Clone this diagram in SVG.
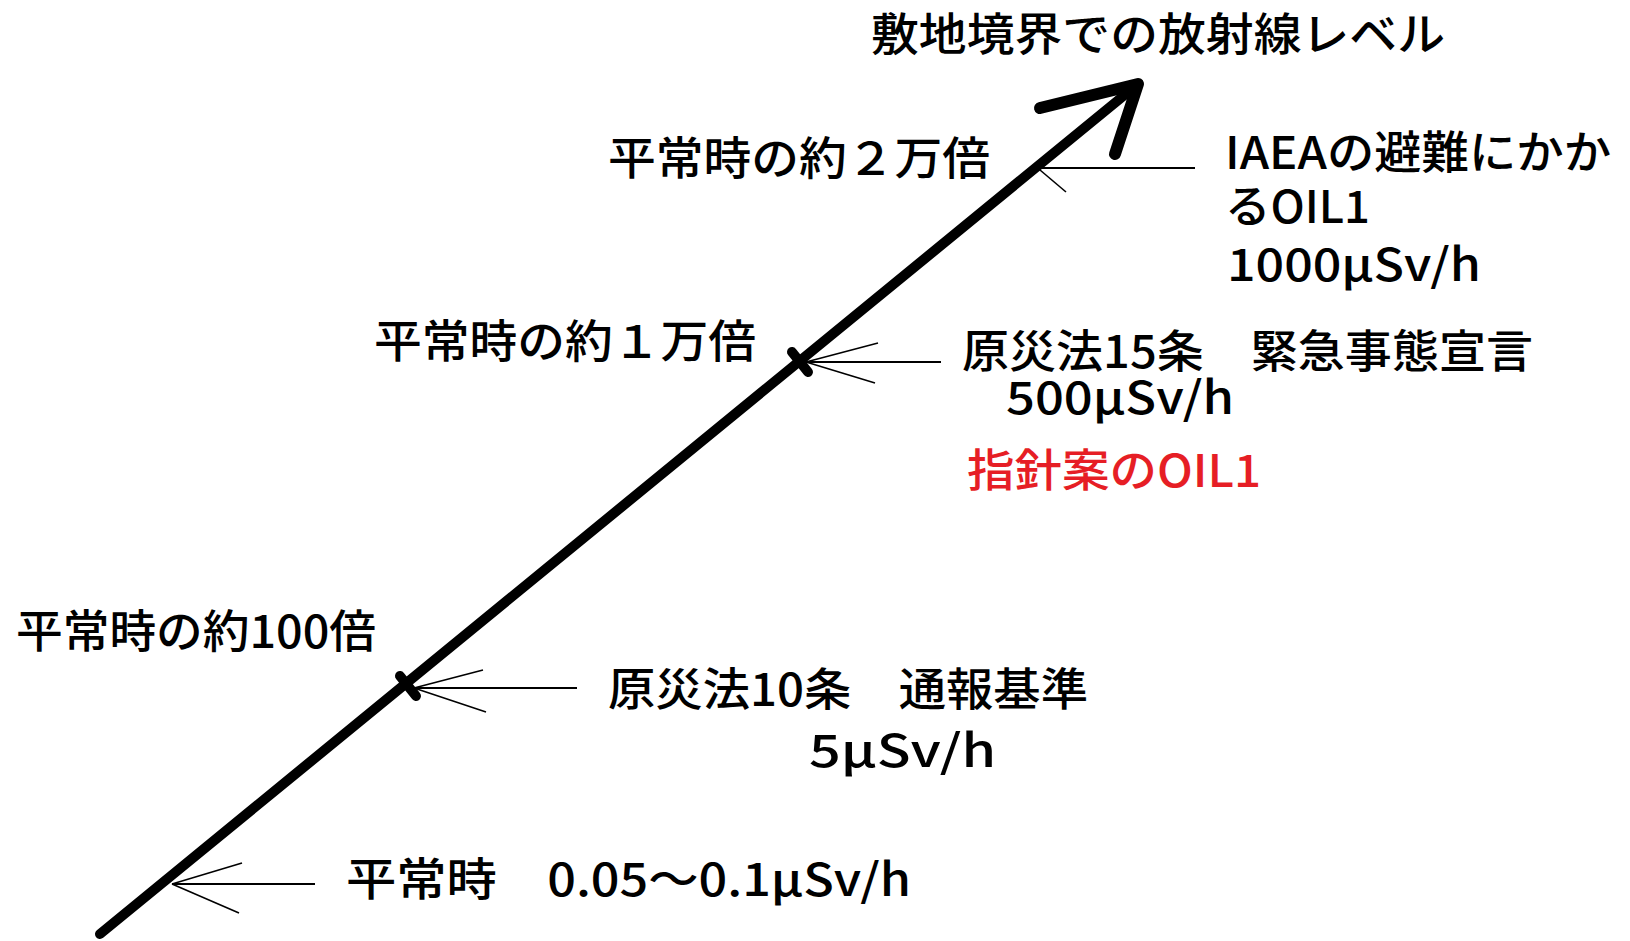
<svg xmlns="http://www.w3.org/2000/svg" width="1630" height="941" viewBox="0 0 1630 941">
<style>
text{font-family:"Noto Sans CJK JP","Noto Sans CJK SC",sans-serif;font-size:45px;font-weight:500;fill:#000}
.red{fill:#e61e25}
.main{stroke:#000;stroke-width:10;stroke-linecap:round;fill:none}
.head{stroke:#000;stroke-width:12;stroke-linecap:round;stroke-linejoin:round;fill:none}
.ptr{stroke:#000;stroke-width:2;fill:none}
.barb{stroke:#000;stroke-width:1.6;fill:none}
.tick{stroke:#000;stroke-width:10;stroke-linecap:round}
</style>
<rect width="1630" height="941" fill="#fff"/>
<g id="axis">
<line class="main" x1="100" y1="934" x2="1138" y2="84"/>
<polyline class="head" points="1040,108 1138,84 1115,154"/>
<line class="tick" x1="792" y1="352" x2="808" y2="372"/>
<line class="tick" x1="400" y1="676" x2="416" y2="696"/>
</g>
<g id="connectors">
<line class="ptr" x1="1035" y1="168" x2="1195" y2="168"/>
<line class="barb" x1="1040" y1="170" x2="1066" y2="192"/>
<line class="ptr" x1="806" y1="362" x2="941" y2="362"/>
<line class="barb" x1="806" y1="362" x2="878" y2="343"/>
<line class="barb" x1="806" y1="362" x2="875" y2="383"/>
<line class="ptr" x1="414" y1="688" x2="577" y2="688"/>
<line class="barb" x1="414" y1="688" x2="483" y2="670"/>
<line class="barb" x1="414" y1="688" x2="486" y2="712"/>
<line class="ptr" x1="172" y1="884" x2="315" y2="884"/>
<line class="barb" x1="172" y1="884" x2="242" y2="863"/>
<line class="barb" x1="172" y1="884" x2="239" y2="913"/>
</g>
<g id="title"><text x="871" y="51" textLength="574" lengthAdjust="spacingAndGlyphs">敷地境界での放射線レベル</text></g>
<g id="x20000"><text x="608" y="175" textLength="382" lengthAdjust="spacingAndGlyphs">平常時の約２万倍</text></g>
<g id="iaea">
<text x="1225" y="169" textLength="386" lengthAdjust="spacingAndGlyphs">IAEAの避難にかか</text>
<text x="1225" y="223" textLength="145" lengthAdjust="spacingAndGlyphs">るOIL1</text>
<text x="1227" y="281" textLength="254" lengthAdjust="spacingAndGlyphs">1000μSv/h</text>
</g>
<g id="x10000"><text x="374" y="358" textLength="382" lengthAdjust="spacingAndGlyphs">平常時の約１万倍</text></g>
<g id="art15">
<text x="962" y="368" textLength="571" lengthAdjust="spacingAndGlyphs">原災法15条　緊急事態宣言</text>
<text x="1006" y="414" textLength="228" lengthAdjust="spacingAndGlyphs">500μSv/h</text>
<text class="red" x="967" y="487" textLength="294" lengthAdjust="spacingAndGlyphs">指針案のOIL1</text>
</g>
<g id="x100"><text x="16" y="648" textLength="360" lengthAdjust="spacingAndGlyphs">平常時の約100倍</text></g>
<g id="art10">
<text x="608" y="706" textLength="480" lengthAdjust="spacingAndGlyphs">原災法10条　通報基準</text>
<text x="809" y="767" textLength="187" lengthAdjust="spacingAndGlyphs">5μSv/h</text>
</g>
<g id="normal"><text x="346" y="896" textLength="565" lengthAdjust="spacingAndGlyphs">平常時　0.05〜0.1μSv/h</text></g>
</svg>
